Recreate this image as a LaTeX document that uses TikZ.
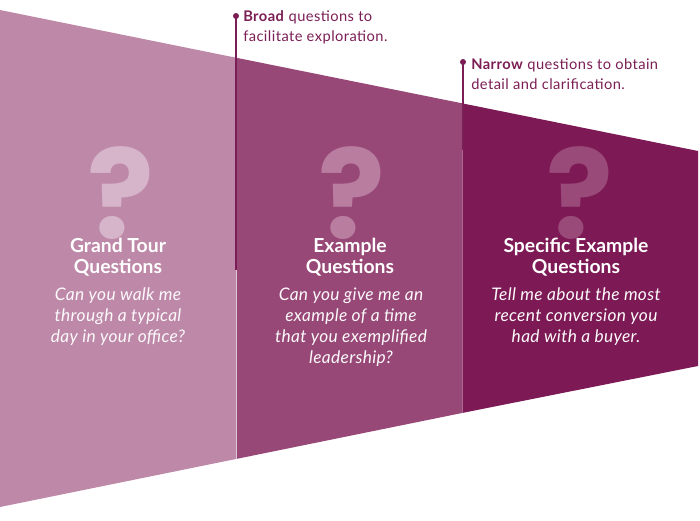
\documentclass[tikz,border=0pt]{standalone}
\usepackage{fontspec}
\setmainfont{Lato}
\newfontfamily\notefont[LetterSpace=3]{Lato}
\newfontfamily\askfont[LetterSpace=2]{Lato}
\newfontfamily\markfont{Poppins}
\definecolor{plumA}{HTML}{BE89A8}
\definecolor{plumB}{HTML}{974876}
\definecolor{plumC}{HTML}{7D1A55}
\definecolor{markA}{HTML}{D6B4C9}
\definecolor{markB}{HTML}{B97DA0}
\definecolor{markC}{HTML}{9A4A79}
\definecolor{inkplum}{HTML}{7B1E55}
\tikzset{
  qmark/.style={font=\markfont\fontsize{93}{93}\selectfont\bfseries, anchor=base, inner sep=0pt},
  title/.style={font=\fontsize{14.5}{15.75}\selectfont\bfseries, text=white, align=center, anchor=base, inner sep=0pt},
  ask/.style={font=\askfont\fontsize{13}{15.75}\selectfont\itshape, text=white!95!plumA, align=center, anchor=base, inner sep=0pt},
  note/.style={font=\notefont\fontsize{11}{15}\selectfont, text=inkplum, align=left, anchor=base west, inner sep=0pt},
  dot/.style={circle, fill=inkplum, inner sep=0pt, minimum size=4.5pt},
  leader/.style={draw=inkplum, line width=0.9pt}
}
\begin{document}
\begin{tikzpicture}[x=0.75pt, y=-0.75pt]
        \useasboundingbox (0, 0) rectangle (700, 521);
        % 三段漏斗
        \fill[plumA] (0, 10) -- (236, 57.7) -- (236, 459) -- (0, 507) -- cycle;
        \fill[plumB] (236, 57.7) -- (462, 103.3) -- (462, 413) -- (236, 459) -- cycle;
        \fill[plumC] (462, 103.3) -- (698, 151) -- (698, 366) -- (462, 413) -- cycle;
        % 分隔线
        \draw[white, opacity=0.7, line width=0.6pt] (236, 57.7) -- (236, 459);
        \draw[white, opacity=0.35, line width=0.6pt] (462, 103.3) -- (462, 413);
        % 问号
        \node (markA) [qmark, text=markA] at (121, 238) {?};
        \node (markB) [qmark, text=markB] at (352, 238) {?};
        \node (markC) [qmark, text=markC] at (580, 238) {?};
        % 标题与问题 (base = 最后一行)
        \node (tour) [title] at (118, 273) {Grand Tour\\Questions};
        \node (example) [title] at (350, 273) {Example\\Questions};
        \node (specific) [title] at (576, 273) {Specific Example\\Questions};
        \node (tourask) [ask] at (118, 342) {Can you walk me\\through a typical\\day in your office?};
        \node (exampleask) [ask] at (351, 363) {Can you give me an\\example of a time\\that you exemplified\\leadership?};
        \node (specificask) [ask] at (576, 342) {Tell me about the most\\recent conversion you\\had with a buyer.};
        % 引线与说明
        \node (broaddot) [dot] at (236, 16) {};
        \node (narrowdot) [dot] at (463, 62) {};
        \coordinate (broadfoot) at (236, 270);
        \coordinate (narrowfoot) at (463, 150);
        \draw[leader] (broaddot.center) -- (broadfoot);
        \draw[leader] (narrowdot.center) -- (narrowfoot);
        \node (broad) [note] at (243, 41) {\textbf{Broad} questions to\\facilitate exploration.};
        \node (narrow) [note] at (471, 89) {\textbf{Narrow} questions to obtain\\detail and clarification.};
    \end{tikzpicture}
\end{document}
